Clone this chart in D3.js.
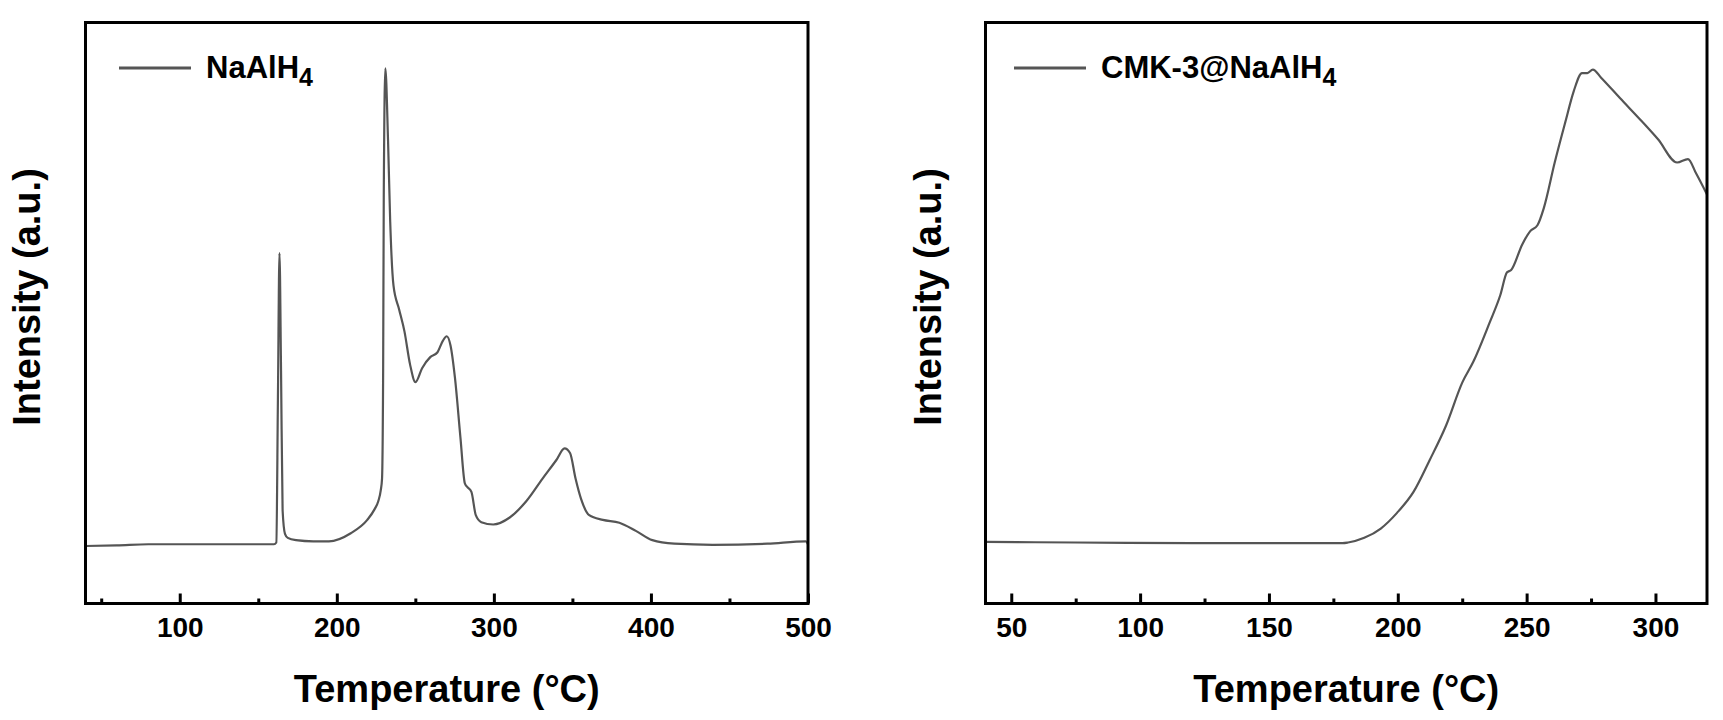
<!DOCTYPE html>
<html>
<head>
<meta charset="utf-8">
<script src="https://cdn.jsdelivr.net/npm/d3@7/dist/d3.min.js"></script>
<style>
  html, body { margin: 0; padding: 0; background: #fff; }
  svg { display: block; }
  text { font-family: "Liberation Sans", Arial, sans-serif; font-weight: bold; fill: #000; }
</style>
</head>
<body>
<svg id="chart" width="1723" height="720"></svg>
<script>
// ---- Data ----
const naalh4Temp = [40, 60, 80, 100, 130, 160, 161.5, 162.5, 163.5, 164.5, 165.5, 167, 168.8, 174, 185, 195, 208.9, 219.4, 224, 226.4, 228, 228.8, 229.5, 229.9, 230.9, 232.6, 234, 236.1, 239.6, 243.1, 246.6, 250.1, 254.3, 259.5, 264, 267.5, 270, 272.4, 275.2, 278.7, 281.5, 282.9, 285.7, 288.5, 292, 299.6, 310.1, 320.6, 331, 339.8, 345, 348.5, 352, 355.5, 360.7, 369.4, 379.9, 390.4, 400.9, 414.9, 439.3, 474.2, 498.6, 500];
const naalh4Int  = [9.9, 10.0, 10.2, 10.2, 10.2, 10.2, 10.5, 35, 60.3, 40, 16, 12.0, 11.3, 10.9, 10.7, 10.7, 12.1, 14.4, 16.2, 17.6, 19.5, 21.5, 40, 70, 92.1, 79.9, 65.7, 54.7, 50.7, 46.8, 41.2, 38.1, 40.5, 42.4, 43.2, 45.2, 46.0, 44.4, 38.9, 28.6, 20.7, 20.1, 19.2, 15.2, 14.0, 13.6, 14.8, 17.6, 21.5, 24.7, 26.7, 25.9, 21.5, 18.0, 15.2, 14.4, 13.9, 12.5, 10.9, 10.3, 10.1, 10.3, 10.7, 10.2];

const cmkTemp = [40, 75, 120, 178.6, 180.7, 187, 193.4, 199.7, 206.1, 212.4, 218.7, 225.1, 229.3, 235.6, 239.8, 242.4, 244, 248.3, 251.4, 254.2, 256.7, 260.9, 265.1, 268.3, 271.5, 273.6, 275.7, 278.9, 286.2, 294.7, 301, 308.4, 312.6, 315.8, 320];
const cmkInt  = [10.6, 10.5, 10.4, 10.4, 10.5, 11.3, 12.9, 15.6, 19.2, 24.7, 30.6, 38.1, 41.6, 48.3, 53.1, 57.0, 57.4, 61.8, 64.1, 65.1, 68.1, 75.9, 83.0, 88.2, 91.3, 91.3, 91.9, 90.5, 87.0, 83.0, 79.9, 75.9, 76.5, 74.0, 70.4];

const leftMajorTicks  = [100, 200, 300, 400, 500];
const leftMinorTicks  = [50, 150, 250, 350, 450];
const rightMajorTicks = [50, 100, 150, 200, 250, 300];
const rightMinorTicks = [75, 125, 175, 225, 275];

const xTitle = "Temperature (\u00B0C)";
const yTitle = "Intensity (a.u.)";

// ---- Drawing ----
const svg = d3.select("#chart");
svg.append("rect").attr("width", 1723).attr("height", 720).attr("fill", "#fff");

const lineColor = "#555555";

function panel(opts) {
  const { left, right, top, bottom, xDomain, temps, ints, major, minor, legendMain, legendX, id, yLabelX } = opts;
  const x = d3.scaleLinear().domain(xDomain).range([left, right]);
  const y = d3.scaleLinear().domain([0, 100]).range([bottom, top]);
  const g = svg.append("g");

  g.append("clipPath").attr("id", id).append("rect")
    .attr("x", left).attr("y", top).attr("width", right - left).attr("height", bottom - top);

  const data = temps.map((t, i) => [t, ints[i]]);
  g.append("path")
    .datum(data)
    .attr("clip-path", `url(#${id})`)
    .attr("fill", "none")
    .attr("stroke", lineColor)
    .attr("stroke-width", 2.2)
    .attr("stroke-linejoin", "round")
    .attr("d", d3.line().x(d => x(d[0])).y(d => y(d[1])).curve(d3.curveMonotoneX));

  // major ticks (inward) with labels
  const axMajor = g.append("g").attr("transform", `translate(0,${bottom})`)
    .call(d3.axisBottom(x).tickValues(major).tickSizeInner(-10).tickSizeOuter(0).tickPadding(14).tickFormat(d3.format("d")));
  axMajor.select(".domain").remove();
  axMajor.selectAll("line").attr("stroke", "#000").attr("stroke-width", 3);
  axMajor.selectAll("text").attr("font-size", 28).attr("font-family", "'Liberation Sans', Arial, sans-serif").attr("font-weight", "bold").attr("fill", "#000");

  const axMinor = g.append("g").attr("transform", `translate(0,${bottom})`)
    .call(d3.axisBottom(x).tickValues(minor).tickSizeInner(-5).tickSizeOuter(0).tickFormat(""));
  axMinor.select(".domain").remove();
  axMinor.selectAll("line").attr("stroke", "#000").attr("stroke-width", 3);

  // frame
  g.append("rect").attr("x", left).attr("y", top).attr("width", right - left).attr("height", bottom - top)
    .attr("fill", "none").attr("stroke", "#000").attr("stroke-width", 3);

  // x title
  g.append("text").attr("x", (left + right) / 2).attr("y", 702).attr("text-anchor", "middle")
    .attr("font-size", 38).text(xTitle);

  // y title
  g.append("text").attr("transform", `translate(${yLabelX},297) rotate(-90)`).attr("text-anchor", "middle")
    .attr("font-size", 38).text(yTitle);

  // legend
  g.append("line").attr("x1", legendX).attr("x2", legendX + 72).attr("y1", 68).attr("y2", 68)
    .attr("stroke", lineColor).attr("stroke-width", 3);
  const lt = g.append("text").attr("x", legendX + 87).attr("y", 78).attr("font-size", 31);
  lt.append("tspan").text(legendMain);
  lt.append("tspan").attr("dy", 8).attr("font-size", 25).text("4");
}

panel({ id: "clipL", left: 85.5, right: 808, top: 22.5, bottom: 603.5, xDomain: [40, 500],
  temps: naalh4Temp, ints: naalh4Int, major: leftMajorTicks, minor: leftMinorTicks,
  legendMain: "NaAlH", legendX: 119, yLabelX: 40 });

panel({ id: "clipR", left: 985.5, right: 1707, top: 22.5, bottom: 603.5, xDomain: [40, 320],
  temps: cmkTemp, ints: cmkInt, major: rightMajorTicks, minor: rightMinorTicks,
  legendMain: "CMK-3@NaAlH", legendX: 1014, yLabelX: 941 });
</script>
</body>
</html>
